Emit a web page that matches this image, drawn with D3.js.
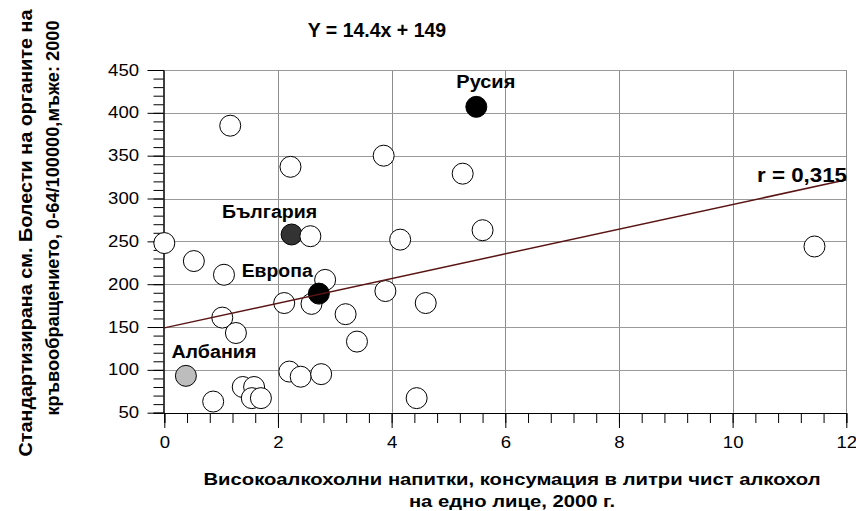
<!DOCTYPE html>
<html>
<head>
<meta charset="utf-8">
<script src="https://cdn.jsdelivr.net/npm/d3@7/dist/d3.min.js"></script>
<style>
  body { margin: 0; background: #fff; }
  svg { display: block; font-family: "Liberation Sans", Arial, sans-serif; }
</style>
</head>
<body>
<svg width="856" height="511"></svg>
<script>
// consumption of spirits (x) vs standardized CVD death rate (y), one value per country
var alcohol = [0, 0.52, 1.05, 1.16, 1.02, 1.26, 0.86, 1.38, 1.58, 1.54, 1.70,
  2.22, 2.57, 2.11, 2.59, 2.83, 2.20, 2.40, 2.76, 3.19, 3.39, 3.86, 3.89,
  4.15, 4.60, 4.44, 5.25, 5.60, 11.44];
var cvd = [248, 227, 211, 385, 161, 143, 63, 80, 80, 67, 67,
  337, 256, 178, 177, 205, 98, 92, 95, 165, 133, 350, 192,
  252, 178, 67, 329, 263, 244];

// labelled points
var labelNames = ["България", "Европа", "Русия", "Албания"];
var labelX = [2.24, 2.72, 5.49, 0.38];
var labelY = [258, 189, 407, 93];

// regression
var slope = 14.4, intercept = 149, rValue = "0,315";

var xTicks = [0, 2, 4, 6, 8, 10, 12];
var yTicks = [50, 100, 150, 200, 250, 300, 350, 400, 450];

var yTitle = ["Стандартизирана см. Болести на органите на",
  "кръвообращението, 0-64/100000,мъже: 2000"];
var xTitle = ["Високоалкохолни напитки, консумация в литри чист алкохол",
  "на едно лице, 2000 г."];

var svg = d3.select("svg");

var x = d3.scaleLinear().domain([0, 12]).range([164.3, 846.3]);
var y = d3.scaleLinear().domain([50, 450]).range([412.7, 70]);

// grid
var grid = svg.append("g").attr("stroke", "#8c8c8c").attr("stroke-width", 1);
grid.selectAll(".gx").data(xTicks.slice(1)).enter().append("line")
  .attr("x1", function(d) { return Math.round(x(d)) + 0.5; })
  .attr("x2", function(d) { return Math.round(x(d)) + 0.5; })
  .attr("y1", y(450)).attr("y2", y(50));
grid.selectAll(".gy").data(yTicks.slice(1)).enter().append("line")
  .attr("stroke", "#9a9a9a")
  .attr("y1", function(d) { return Math.round(y(d)) + 0.5; })
  .attr("y2", function(d) { return Math.round(y(d)) + 0.5; })
  .attr("x1", x(0)).attr("x2", x(12));

// axes
var tickScale = 1.16;
var yMinor = d3.range(50, 451, 10);
svg.append("g").attr("transform", "translate(163.5,0)")
  .call(d3.axisLeft(y).tickValues(yMinor).tickSize(10).tickFormat(""));
var yAxis = svg.append("g").attr("transform", "translate(163.5,0)")
  .call(d3.axisLeft(y).tickValues(yTicks).tickSize(16).tickSizeOuter(0));
yAxis.selectAll("text")
  .attr("x", -24.5 / tickScale)
  .attr("transform", "scale(" + tickScale + ",1)");

var xMinor = d3.range(0, 12.01, 0.4);
svg.append("g").attr("transform", "translate(0,413)")
  .call(d3.axisBottom(x).tickValues(xMinor).tickSize(10).tickFormat(""));
var xAxis = svg.append("g").attr("transform", "translate(0,413)")
  .call(d3.axisBottom(x).tickValues(xTicks).tickSize(15).tickPadding(9).tickSizeOuter(0));
xAxis.selectAll("text").attr("transform", "scale(" + tickScale + ",1)");

svg.selectAll(".tick line, .domain").attr("stroke", "#000");
svg.selectAll(".tick text").attr("fill", "#000")
  .style("font-size", "16px").style("font-family", "Liberation Sans, Arial, sans-serif");

// points
var fills = { "България": "#333333", "Европа": "#000000", "Русия": "#000000", "Албания": "#bdbdbd" };
var labelled = labelNames.map(function(n, i) { return { name: n, x: labelX[i], y: labelY[i] }; });
var plain = alcohol.map(function(v, i) { return { x: v, y: cvd[i] }; });

var pts = svg.append("g");
function drawPoint(d, fill) {
  pts.append("circle")
    .attr("cx", x(d.x)).attr("cy", y(d.y)).attr("r", 10.5)
    .attr("fill", fill).attr("stroke", "#000").attr("stroke-width", 1);
}
labelled.filter(function(d) { return d.name == "България"; })
  .forEach(function(d) { drawPoint(d, fills[d.name]); });
plain.forEach(function(d) { drawPoint(d, "#fff"); });
labelled.filter(function(d) { return d.name != "България"; })
  .forEach(function(d) { drawPoint(d, fills[d.name]); });

// regression line
svg.append("line")
  .attr("x1", x(0)).attr("y1", y(intercept))
  .attr("x2", x(12)).attr("y2", y(intercept + slope * 12))
  .attr("stroke", "#5a1414").attr("stroke-width", 1.5);

// point labels, offset from their circles
var offsets = { "България": [-22, -16.6, 95], "Европа": [-41.7, -16.6, 71],
  "Русия": [9.5, -19, 59], "Албания": [28, -18, 85] };
svg.append("g").selectAll("text").data(labelled).enter().append("text")
  .attr("x", function(d) { return x(d.x) + offsets[d.name][0]; })
  .attr("y", function(d) { return y(d.y) + offsets[d.name][1]; })
  .attr("text-anchor", "middle")
  .attr("textLength", function(d) { return offsets[d.name][2]; })
  .attr("lengthAdjust", "spacingAndGlyphs")
  .style("font-size", "18px").style("font-weight", "bold")
  .text(function(d) { return d.name; });

// equation and r
svg.append("text").attr("x", 377).attr("y", 37).attr("text-anchor", "middle")
  .style("font-size", "19.5px").style("font-weight", "bold")
  .text("Y = " + slope + "x + " + intercept);
svg.append("text").attr("x", 757).attr("y", 182)
  .attr("textLength", 90).attr("lengthAdjust", "spacingAndGlyphs")
  .style("font-size", "21px").style("font-weight", "bold")
  .text("r = " + rValue);

// axis titles
var yt = [[32, 233, 447], [59, 218, 395]];
yTitle.forEach(function(t, i) {
  svg.append("text")
    .attr("transform", "translate(" + yt[i][0] + "," + yt[i][1] + ") rotate(-90)")
    .attr("text-anchor", "middle")
    .attr("textLength", yt[i][2]).attr("lengthAdjust", "spacingAndGlyphs")
    .style("font-size", "18px").style("font-weight", "bold")
    .text(t);
});

var xt = [485, 507];
var xTexts = xTitle.map(function(t, i) {
  return svg.append("text").attr("x", 512).attr("y", xt[i]).attr("text-anchor", "middle")
    .style("font-size", "17px").style("font-weight", "bold").text(t);
});
var squeeze = 617 / xTexts[0].node().getComputedTextLength();
xTexts.forEach(function(t) {
  t.attr("textLength", t.node().getComputedTextLength() * squeeze)
    .attr("lengthAdjust", "spacingAndGlyphs");
});
</script>
</body>
</html>
